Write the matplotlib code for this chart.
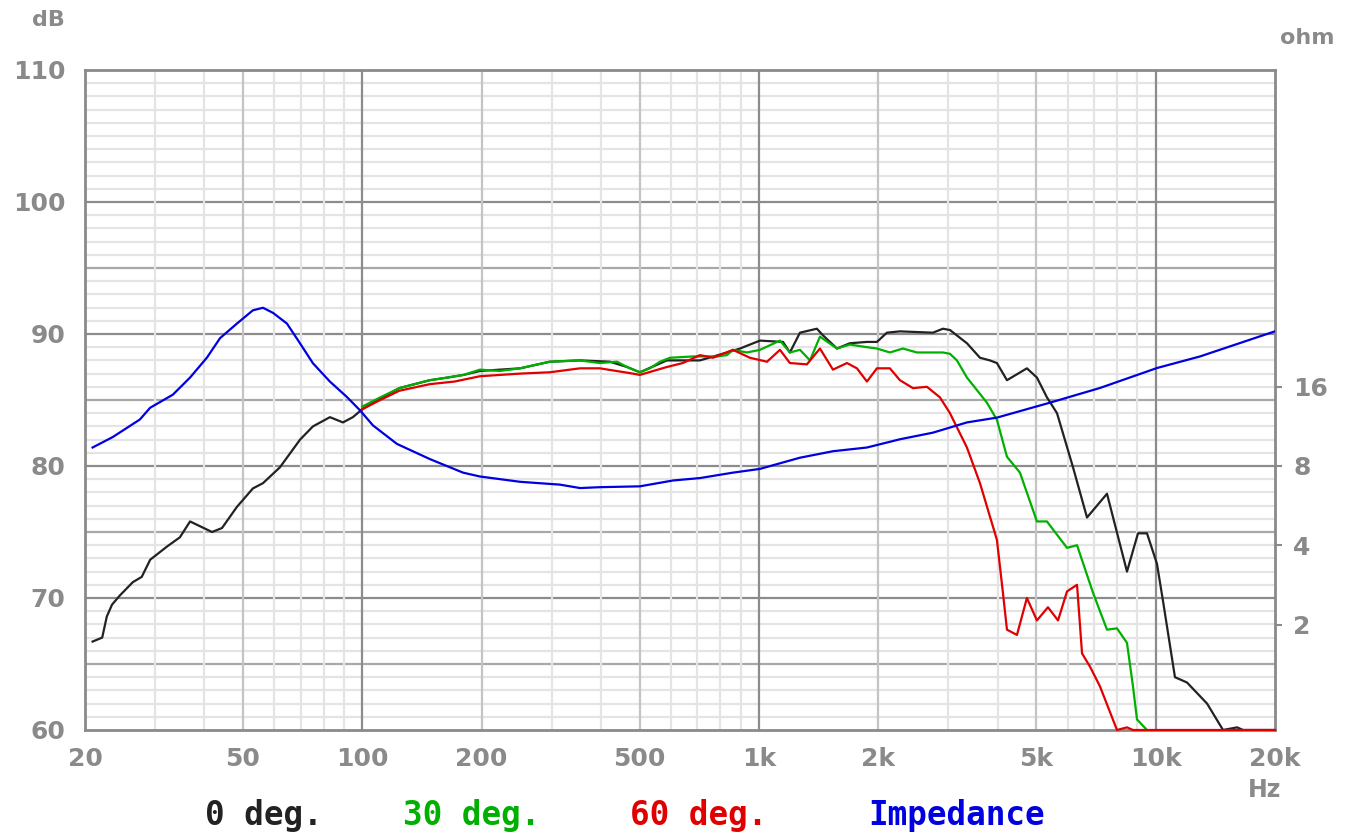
import numpy as np
import matplotlib.pyplot as plt

# frequency response data (Hz, dB)
f_0 = [20.9, 22.1, 22.7, 23.4, 24.5, 26.4, 27.8, 29.2, 32.2, 34.7, 36.8, 41.8, 44.3, 48.3,
       53.0, 56.2, 62.0, 69.7, 75.1, 82.9, 89.4, 94.7, 100, 111, 124, 148, 164, 180, 198,
       250, 297, 354, 421, 465, 501, 586, 710, 831, 896, 1006, 1150, 1197, 1269, 1400,
       1450, 1573, 1696, 1872, 1984, 2102, 2267, 2746, 2910, 3031, 3345, 3608, 3822, 3981,
       4220, 4738, 5022, 5322, 5643, 6192, 6716, 7542, 8470, 9029, 9513, 10078, 10436,
       11190, 11998, 13484, 14792, 16048, 16617, 20000]
db_0 = [66.7, 67.0, 68.6, 69.5, 70.2, 71.2, 71.6, 72.9, 73.9, 74.6, 75.8, 75.0, 75.3, 76.9,
        78.3, 78.7, 79.9, 82.0, 83.0, 83.7, 83.3, 83.7, 84.3, 85.1, 85.9, 86.5, 86.7, 86.9, 87.2,
        87.4, 87.9, 88.0, 87.9, 87.5, 87.1, 88.0, 88.0, 88.6, 88.9, 89.5, 89.4, 88.6, 90.1, 90.4,
        89.9, 88.9, 89.3, 89.4, 89.4, 90.1, 90.2, 90.1, 90.4, 90.3, 89.3, 88.2, 88.0, 87.8,
        86.5, 87.4, 86.7, 85.2, 84.0, 79.9, 76.1, 77.9, 72.0, 74.9, 74.9, 72.6, 69.8,
        64.0, 63.6, 62.0, 60.0, 60.2, 60.0, 60.0]

f_30 = [100, 111, 124, 148, 164, 180, 198, 222, 250, 297, 354, 397, 439, 465, 501, 531, 563,
        597, 682, 784, 831, 860, 933, 1006, 1130, 1197, 1269, 1345, 1425, 1573, 1696, 1872,
        1984, 2139, 2307, 2502, 2910, 3031, 3156, 3345, 3756, 3981, 4220, 4550, 5022, 5322,
        5980, 6338, 6954, 7542, 7992, 8470, 8770, 8977, 9513]
db_30 = [84.5, 85.2, 85.9, 86.5, 86.7, 86.9, 87.3, 87.2, 87.4, 87.9, 88.0, 87.8, 87.9, 87.5, 87.1, 87.4, 87.9,
         88.2, 88.3, 88.3, 88.4, 88.8, 88.6, 88.8, 89.5, 88.6, 88.8, 88.0, 89.8, 88.9, 89.2, 89.0,
         88.9, 88.6, 88.9, 88.6, 88.6, 88.5, 88.0, 86.7, 84.8, 83.5, 80.7, 79.5, 75.8, 75.8,
         73.8, 74.0, 70.4, 67.6, 67.7, 66.6, 63.3, 60.8, 60.0]

f_60 = [100, 111, 124, 148, 171, 198, 250, 297, 354, 397, 481, 501, 586, 643, 710, 766, 860,
        949, 1048, 1130, 1197, 1321, 1425, 1537, 1667, 1766, 1872, 1984, 2139, 2267, 2445,
        2652, 2860, 3031, 3345, 3608, 3981, 4122, 4220, 4472, 4738, 5022, 5354, 5676, 5980,
        6338, 6525, 6834, 7242, 7992, 8470, 8770, 20000]
db_60 = [84.3, 85.0, 85.7, 86.2, 86.4, 86.8, 87.0, 87.1, 87.4, 87.4, 87.0, 86.9, 87.5, 87.8, 88.4, 88.2, 88.8,
         88.2, 87.9, 88.8, 87.8, 87.7, 88.9, 87.3, 87.8, 87.4, 86.4, 87.4, 87.4, 86.5, 85.9,
         86.0, 85.2, 84.0, 81.4, 78.7, 74.4, 70.4, 67.6, 67.2, 70.0, 68.3, 69.3, 68.3, 70.5,
         71.0, 65.8, 64.8, 63.3, 60.0, 60.2, 60.0, 60.0]

# impedance (Hz, ohm)
f_imp = [20.9, 23.5, 27.5, 29.2, 33.3, 36.8, 40.6, 43.8, 48.3, 53.0, 56.2, 59.6, 64.6, 69.7,
         75.1, 82.9, 91.5, 98.7, 106.4, 122.3, 148, 179.5, 198, 250, 315, 354, 397, 501, 607,
         710, 860, 1006, 1269, 1537, 1872, 2267, 2746, 3345, 3981, 5417, 7242, 10078, 12940, 20000]
ohm_imp = [9.4, 10.3, 12.0, 13.3, 14.9, 17.3, 20.6, 24.4, 27.7, 31.1, 31.8, 30.4, 27.7, 23.3,
           19.6, 16.7, 14.6, 13.0, 11.4, 9.7, 8.5, 7.55, 7.3, 6.97, 6.8, 6.6, 6.65, 6.7, 7.05,
           7.2, 7.55, 7.8, 8.6, 9.1, 9.4, 10.1, 10.7, 11.7, 12.2, 13.9, 15.8, 18.8, 20.8, 25.9]

x_ticks = [20, 50, 100, 200, 500, 1000, 2000, 5000, 10000, 20000]
x_labels = ['20', '50', '100', '200', '500', '1k', '2k', '5k', '10k', '20k']
y_ticks = [60, 70, 80, 90, 100, 110]
ohm_ticks = [2, 4, 8, 16]

gray = '#8a8a8a'
fig = plt.figure(figsize=(13.46, 8.33), dpi=100)
ax = fig.add_axes([85/1346, 1-730/833, 1190/1346, 660/833])
ax.set_xscale('log')
ax.set_xlim(20, 20000)
ax.set_ylim(60, 110)

# grid
for v in range(61, 110):
    if v % 10 == 0:
        c = '#8c8c8c'
    elif v % 5 == 0 and v < 100:
        c = '#a8a8a8'
    else:
        c = '#e4e4e4'
    ax.axhline(v, color=c, lw=1.6, zorder=1)
for dec in [10, 100, 1000]:
    for m in range(2, 10):
        fr = dec * m
        if fr <= 20:
            continue
        c = '#c4c4c4' if m in (2, 5) else '#e4e4e4'
        ax.axvline(fr, color=c, lw=1.6, zorder=1)
for fr in [100, 1000, 10000]:
    ax.axvline(fr, color='#8c8c8c', lw=1.6, zorder=1)

ax.plot(f_0, db_0, color='#222222', lw=1.6, zorder=3)
ax.plot(f_30, db_30, color='#00b000', lw=1.6, zorder=4)
ax.plot(f_60, db_60, color='#e00000', lw=1.6, zorder=5, clip_on=False)

for s in ax.spines.values():
    s.set_color(gray)
    s.set_linewidth(2)

ax.set_xticks(x_ticks)
ax.set_xticklabels(x_labels)
ax.xaxis.set_minor_locator(plt.NullLocator())
ax.set_yticks(y_ticks)
ax.tick_params(axis='both', length=0, labelcolor=gray, labelsize=18)
ax.tick_params(axis='x', pad=12)
ax.tick_params(axis='y', pad=14)
for t in ax.get_xticklabels() + ax.get_yticklabels():
    t.set_fontweight('bold')

# impedance on right log axis (8 ohm at 80 dB)
ax2 = ax.twinx()
ax2.set_yscale('log')
ax2.set_ylim(0.8, 8 * 10 ** 1.5)
ax2.plot(f_imp, ohm_imp, color='#0000e0', lw=1.6, zorder=6)
ax2.set_yticks(ohm_ticks)
ax2.set_yticklabels([str(v) for v in ohm_ticks])
ax2.yaxis.set_minor_locator(plt.NullLocator())
ax2.tick_params(axis='y', length=5, width=1.5, color=gray, labelcolor=gray,
                labelsize=18, pad=8)
for t in ax2.get_yticklabels():
    t.set_fontweight('bold')
for s in ax2.spines.values():
    s.set_visible(False)

fig.text(48/1346, 1-20/833, 'dB', color=gray, fontsize=16, fontweight='bold', ha='center', va='center')
fig.text(1307/1346, 1-38/833, 'ohm', color=gray, fontsize=16, fontweight='bold', ha='center', va='center')
fig.text(1265/1346, 1-790/833, 'Hz', color=gray, fontsize=17, fontweight='bold', ha='center', va='center')

legend_items = [('0 deg.', '#222222', 205), ('30 deg.', '#00b000', 403),
                ('60 deg.', '#e00000', 630), ('Impedance', '#0000e0', 868)]
for txt, col, xp in legend_items:
    fig.text(xp/1346, 1-816/833, txt, color=col, fontsize=23.5, fontweight='bold',
             family='DejaVu Sans Mono', ha='left', va='center')

fig.savefig('out.png', dpi=100)
